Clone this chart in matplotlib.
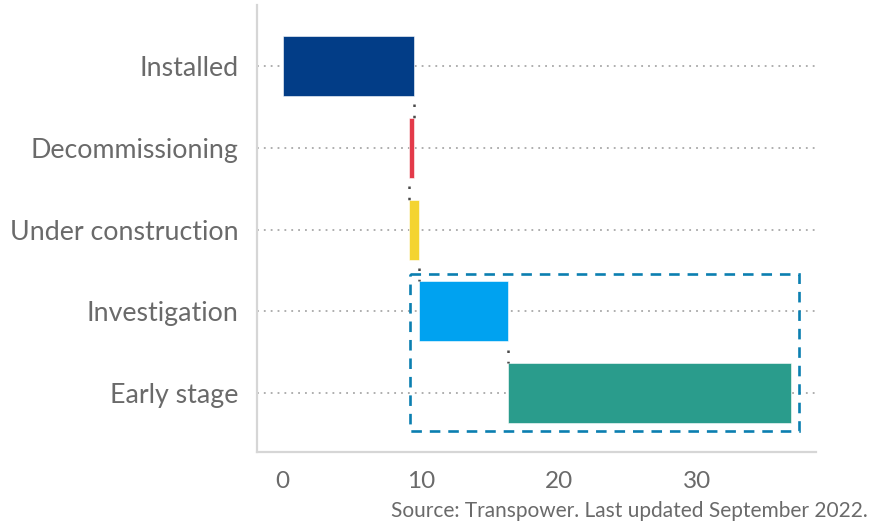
import matplotlib
matplotlib.use("Agg")
import matplotlib.pyplot as plt
from matplotlib.patches import Rectangle
import numpy as np

# Pipeline stages (GW) shown as a waterfall
categories = ["Installed", "Decommissioning", "Under construction", "Investigation", "Early stage"]
changes = [9.55, -0.4, 0.7, 6.45, 20.5]
colors = ["#023d87", "#e33a4a", "#f4d431", "#00a2f0", "#2a9c8c"]
xticks = [0, 10, 20, 30]
source_note = "Source: Transpower. Last updated September 2022."

plt.rcParams["font.family"] = ["Lato", "DejaVu Sans"]
text_grey = "#6a6a6a"

fig = plt.figure(figsize=(8.77, 5.21), dpi=100)
ax = fig.add_axes([0.2925, 0.1324, 0.9304 - 0.2925, 0.9904 - 0.1324])

ypos = np.arange(len(categories))
ends = np.cumsum(changes)
starts = ends - np.array(changes)
lefts = np.minimum(starts, ends)
widths = np.abs(changes)
bar_h = 0.734

# dotted guide lines behind the bars
for y in ypos:
    ax.axhline(y, color="#a8a8a8", lw=1.3, ls=(0, (1, 2.8)), zorder=1)

ax.barh(ypos, widths, left=lefts, height=bar_h, color=colors, zorder=3,
        edgecolor="#ffffff", linewidth=0.4)

# connectors between consecutive bars
for i in range(len(categories) - 1):
    ax.plot([ends[i], ends[i]], [ypos[i] + bar_h / 2 + 0.1, ypos[i + 1] - bar_h / 2],
            color="#4a4a4a", lw=1.8, ls=(0, (1, 3.5)), zorder=4)

# dashed frame around the future pipeline
x0 = starts[3] - 0.6
x1 = ends[4] + 0.55
y0 = ypos[3] - 0.46
y1 = ypos[4] + 0.465
ax.add_patch(Rectangle((x0, y0), x1 - x0, y1 - y0, fill=False,
                       edgecolor="#0b7fb0", lw=1.9, ls=(0, (4, 3)), zorder=5))

ax.set_xlim(-1.88, 38.6)
ax.set_ylim(4.72, -0.746)
ax.set_yticks(ypos)
ax.set_yticklabels(categories)
ax.set_xticks(xticks)
ax.set_xticklabels([str(t) for t in xticks])
ax.tick_params(axis="y", length=0, pad=13, labelsize=19.3, labelcolor=text_grey)
ax.tick_params(axis="x", length=0, pad=14, labelsize=17.5, labelcolor=text_grey)

for side in ["top", "right"]:
    ax.spines[side].set_visible(False)
for side in ["left", "bottom"]:
    ax.spines[side].set_color("#d6d6d6")
    ax.spines[side].set_linewidth(1.6)

fig.text(868 / 877, 1 - 511 / 521, source_note, ha="right", va="center",
         fontsize=15, color=text_grey)

fig.savefig("out.png", dpi=100)
